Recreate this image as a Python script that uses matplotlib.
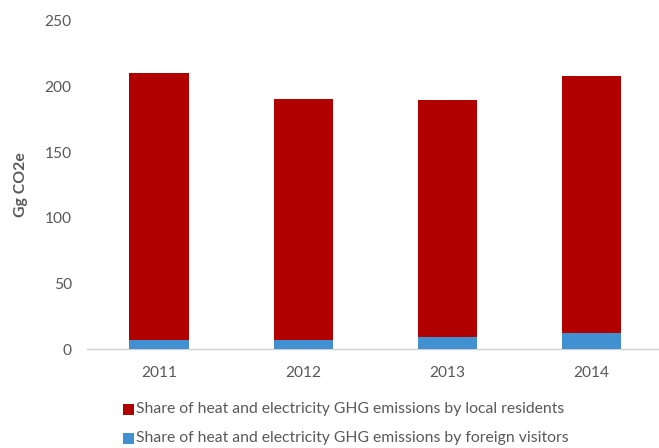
import matplotlib
matplotlib.use("Agg")
import matplotlib.pyplot as plt
import numpy as np
from matplotlib.patches import Rectangle

years = ["2011", "2012", "2013", "2014"]
foreign = [7.4, 7.4, 9.4, 12.7]
local = [202.6, 182.8, 180.0, 195.3]
yticks = [0, 50, 100, 150, 200, 250]
label_local = "Share of heat and electricity GHG emissions by local residents"
label_foreign = "Share of heat and electricity GHG emissions by foreign visitors"

plt.rcParams['font.family'] = ['Lato', 'DejaVu Sans']
tc = '#595959'
red = '#B00000'
blue = '#4090D2'

fig = plt.figure(figsize=(6.59, 4.48), dpi=100)
ax = fig.add_axes([87/659, (448-349.3)/448, (663.8-87)/659, (349.3-20.7)/448])
ax.patch.set_alpha(0)
x = np.arange(len(years))
ax.bar(x, foreign, width=0.411, color=blue, zorder=3)
ax.bar(x, local, width=0.411, bottom=foreign, color=red, zorder=3)
ax.set_xlim(-0.5, len(years)-0.5)
ax.set_ylim(0, 250)
ax.set_yticks(yticks)
ax.set_xticks(x)
ax.set_xticklabels(years)
for s in ['top', 'right', 'left']:
    ax.spines[s].set_visible(False)
ax.spines['bottom'].set_color('#D0D0D0')
ax.spines['bottom'].set_linewidth(1.0)
ax.tick_params(axis='both', length=0, colors=tc, labelsize=11.2)
ax.tick_params(axis='x', pad=12)
ax.tick_params(axis='y', pad=11)
ax.set_ylabel("Gg CO2e", fontsize=11.4, fontweight='bold', color=tc, labelpad=12)

for i, (lab, col) in enumerate([(label_local, red), (label_foreign, blue)]):
    yc = 448 - (409 + i*29.3)
    fig.patches.append(Rectangle((123.3/659, (yc-5.5)/448), 11/659, 11/448,
                                 transform=fig.transFigure, facecolor=col, edgecolor='none'))
    fig.text(136.5/659, yc/448, lab, fontsize=11.3, color=tc, va='center', ha='left')

fig.savefig("out.png", dpi=100)
